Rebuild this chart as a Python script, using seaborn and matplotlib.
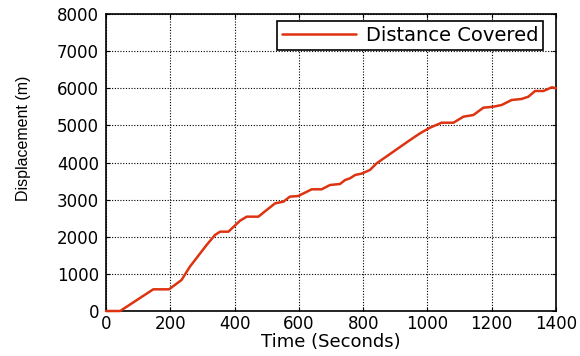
import matplotlib
matplotlib.use("Agg")
import matplotlib.pyplot as plt
import seaborn as sns
import pandas as pd

# Distance covered over time
time_s = [0, 44, 147, 196, 235, 261, 313, 339, 355, 381, 417, 438, 474, 526, 552,
          572, 598, 640, 671, 697, 728, 744, 759, 775, 795, 821, 842, 946, 977,
          1008, 1044, 1081, 1112, 1143, 1174, 1205, 1231, 1262, 1293, 1314, 1335,
          1361, 1387, 1400]
displacement_m = [0, 0, 584, 584, 835, 1194, 1778, 2047, 2137, 2137, 2433, 2541,
                  2541, 2900, 2945, 3080, 3097, 3278, 3278, 3394, 3421, 3529, 3574,
                  3663, 3700, 3798, 3978, 4606, 4786, 4938, 5072, 5072, 5234, 5279,
                  5476, 5503, 5549, 5684, 5711, 5773, 5926, 5926, 6026, 6000]
series_label = "Distance Covered"
x_ticks = [0, 200, 400, 600, 800, 1000, 1200, 1400]
y_ticks = [0, 1000, 2000, 3000, 4000, 5000, 6000, 7000, 8000]

df = pd.DataFrame({"Time": time_s, "Displacement": displacement_m})

sns.set_style("white")
plt.rcParams["font.family"] = ["DejaVu Sans"]
plt.rcParams["text.color"] = "black"
plt.rcParams["axes.labelcolor"] = "black"
plt.rcParams["xtick.color"] = "black"
plt.rcParams["ytick.color"] = "black"

fig = plt.figure(figsize=(5.8, 3.56), dpi=100)
ax = fig.add_axes([106 / 580, 45 / 356, 450 / 580, 297 / 356])

sns.lineplot(data=df, x="Time", y="Displacement", ax=ax, color="#DD3311",
             linewidth=1.8, label=series_label, estimator=None, sort=False)
for ln in ax.lines:
    ln.set_clip_on(False)
    ln.set_zorder(5)

ax.set_xlim(0, 1400)
ax.set_ylim(0, 8000)
ax.set_xticks(x_ticks)
ax.set_yticks(y_ticks)
ax.tick_params(axis="both", direction="in", length=3, width=0.8, labelsize=12,
               top=True, right=True, bottom=True, left=True, pad=5)
ax.tick_params(axis="x", pad=3)
ax.grid(True, color="black", linestyle=(0, (1, 1.5)), linewidth=0.8)
for s in ax.spines.values():
    s.set_color("black")
    s.set_linewidth(1.2)

ax.set_xlabel("Time (Seconds)", fontsize=13, labelpad=0)
ax.set_ylabel("Displacement (m)", fontsize=11.5,
              family=["Liberation Sans", "DejaVu Sans"])
ax.yaxis.set_label_coords(-0.166, 0.582)

leg = ax.legend(loc="upper right", bbox_to_anchor=(0.971, 0.976),
                borderaxespad=0, fontsize=14, frameon=True, fancybox=False,
                handlelength=3.8, borderpad=0.25, handletextpad=0.5)
leg.get_frame().set_edgecolor("black")
leg.get_frame().set_linewidth(1.2)
leg.get_frame().set_alpha(1)

fig.savefig("out.png", dpi=100)
